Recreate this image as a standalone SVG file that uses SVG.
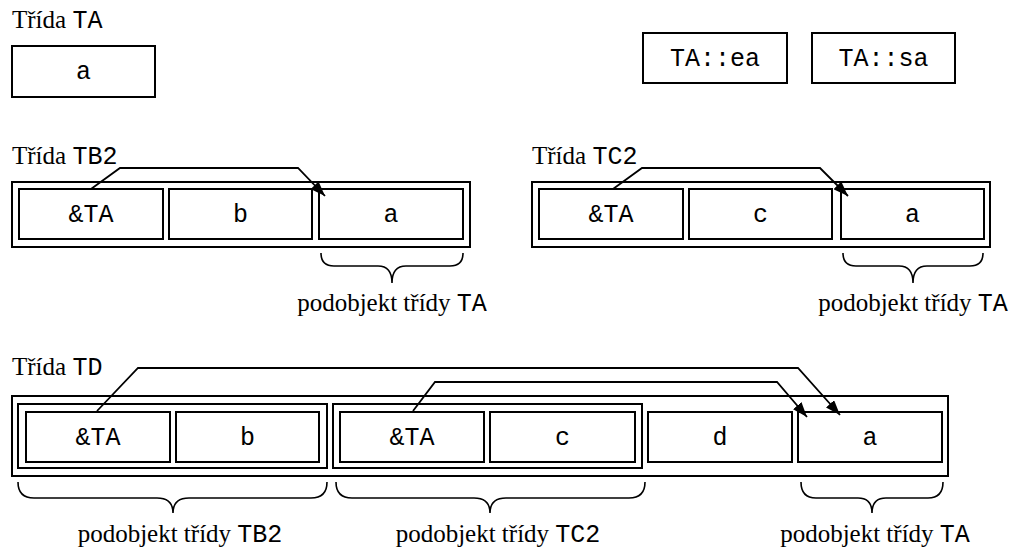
<svg xmlns="http://www.w3.org/2000/svg" width="1011" height="548" viewBox="0 0 1011 548">
<style>
.box{fill:#fff;stroke:#000;stroke-width:2}
.frame{fill:none;stroke:#000;stroke-width:2}
.serif{font-family:"Liberation Serif","Times New Roman",serif;font-size:25px;fill:#000}
.mono{font-family:"Liberation Mono","Courier New",monospace;font-size:25px;fill:#000}
.cell{font-family:"Liberation Mono","Courier New",monospace;font-size:25px;fill:#000;text-anchor:middle}
.conn{fill:none;stroke:#000;stroke-width:1.8;marker-end:url(#ah)}
.brace{fill:none;stroke:#000;stroke-width:1.6}
</style>
<defs>
<marker id="ah" viewBox="0 0 15 11" refX="15" refY="5.5" markerWidth="15" markerHeight="11" markerUnits="userSpaceOnUse" orient="auto">
<path d="M0,0 L15,5.5 L0,11 Z" fill="#000"/>
</marker>
</defs>
<rect width="1011" height="548" fill="#fff"/>

<g id="classTA">
<text class="serif" x="12" y="28">Třída <tspan class="mono">TA</tspan></text>
<rect class="box" x="12" y="46" width="143" height="51"/>
<text class="cell" x="83.5" y="79">a</text>
</g>

<g id="staticTA">
<rect class="box" x="643" y="33" width="144" height="50"/>
<text class="cell" x="715" y="66">TA::ea</text>
<rect class="box" x="812" y="33" width="143" height="50"/>
<text class="cell" x="883.5" y="66">TA::sa</text>
</g>

<g id="classTB2">
<text class="serif" x="12" y="164">Třída <tspan class="mono">TB2</tspan></text>
<rect class="frame" x="12" y="182" width="458" height="65"/>
<rect class="box" x="19" y="189" width="144" height="50"/>
<text class="cell" x="91" y="222">&amp;TA</text>
<rect class="box" x="169" y="189" width="143" height="50"/>
<text class="cell" x="240.5" y="222">b</text>
<rect class="box" x="319" y="189" width="144" height="50"/>
<text class="cell" x="391" y="222">a</text>
<path class="brace" d="M321,253 Q321,266 334,266 L378,266 Q392,266 392,283 Q392,266 406,266 L450,266 Q463,266 463,253"/>
<text class="serif" x="392" y="311" text-anchor="middle">podobjekt třídy <tspan class="mono">TA</tspan></text>
</g>

<g id="classTC2">
<text class="serif" x="532" y="164">Třída <tspan class="mono">TC2</tspan></text>
<rect class="frame" x="532" y="182" width="458" height="65"/>
<rect class="box" x="539" y="189" width="144" height="50"/>
<text class="cell" x="611" y="222">&amp;TA</text>
<rect class="box" x="689" y="189" width="143" height="50"/>
<text class="cell" x="760.5" y="222">c</text>
<rect class="box" x="841" y="189" width="143" height="50"/>
<text class="cell" x="912.5" y="222">a</text>
<path class="brace" d="M843,253 Q843,266 856,266 L899,266 Q913,266 913,283 Q913,266 927,266 L970,266 Q983,266 983,253"/>
<text class="serif" x="913" y="311" text-anchor="middle">podobjekt třídy <tspan class="mono">TA</tspan></text>
</g>

<g id="classTD">
<text class="serif" x="12" y="375">Třída <tspan class="mono">TD</tspan></text>
<rect class="frame" x="12" y="396" width="936" height="80"/>
<rect class="frame" x="18" y="404" width="309" height="64"/>
<rect class="box" x="26" y="412" width="144" height="50"/>
<text class="cell" x="98" y="445">&amp;TA</text>
<rect class="box" x="176" y="412" width="143" height="50"/>
<text class="cell" x="247.5" y="445">b</text>
<rect class="frame" x="333" y="404" width="309" height="64"/>
<rect class="box" x="340" y="412" width="144" height="50"/>
<text class="cell" x="412" y="445">&amp;TA</text>
<rect class="box" x="490" y="412" width="145" height="50"/>
<text class="cell" x="562.5" y="445">c</text>
<rect class="box" x="648" y="412" width="144" height="50"/>
<text class="cell" x="720" y="445">d</text>
<rect class="box" x="798" y="412" width="144" height="50"/>
<text class="cell" x="870" y="445">a</text>
<path class="brace" d="M18,482 Q18,498 34,498 L157,498 Q173,498 173,513 Q173,498 189,498 L311,498 Q327,498 327,482"/>
<path class="brace" d="M336,482 Q336,498 352,498 L474,498 Q490,498 490,513 Q490,498 506,498 L629,498 Q645,498 645,482"/>
<path class="brace" d="M801,482 Q801,498 816,498 L858,498 Q872,498 872,513 Q872,498 886,498 L928,498 Q943,498 943,482"/>
<text class="serif" x="180" y="542" text-anchor="middle">podobjekt třídy <tspan class="mono">TB2</tspan></text>
<text class="serif" x="498" y="542" text-anchor="middle">podobjekt třídy <tspan class="mono">TC2</tspan></text>
<text class="serif" x="875" y="542" text-anchor="middle">podobjekt třídy <tspan class="mono">TA</tspan></text>
</g>

<g id="connectors">
<path class="conn" d="M91,189 L120,168 L298,168 L325,196"/>
<path class="conn" d="M613,189 L642,168 L820,168 L848,196"/>
<path class="conn" d="M97,411 L138,368 L798,368 L840,415"/>
<path class="conn" d="M413,411 L435,382 L777,382 L807,417"/>
</g>
</svg>
